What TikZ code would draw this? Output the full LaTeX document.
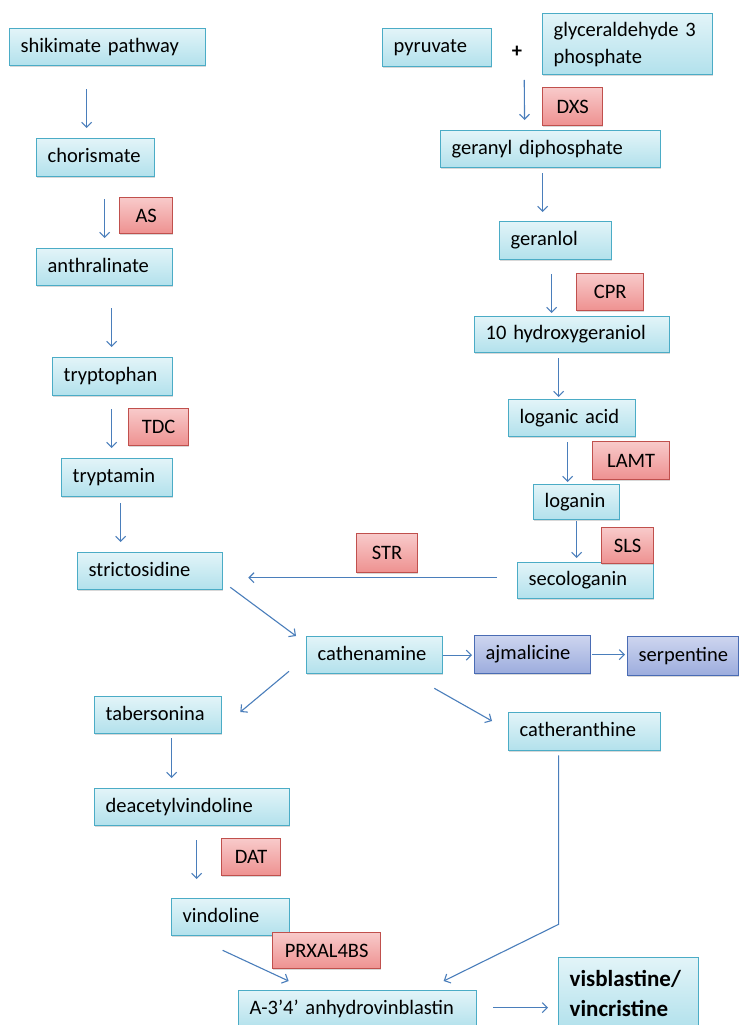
\documentclass[tikz,border=0pt]{standalone}
\usepackage{fontspec}
\setmainfont{Carlito}
\usetikzlibrary{arrows.meta,shadows}
\definecolor{cyanTop}{HTML}{E2F4F8}
\definecolor{cyanBot}{HTML}{B2E1EC}
\definecolor{cyanLine}{HTML}{4BACC6}
\definecolor{redTop}{HTML}{F8CACA}
\definecolor{redBot}{HTML}{EE9190}
\definecolor{redLine}{HTML}{C0504D}
\definecolor{blueTop}{HTML}{CDD5EF}
\definecolor{blueBot}{HTML}{9CACDD}
\definecolor{blueLine}{HTML}{4A6CB4}
\definecolor{arrowBlue}{HTML}{4A7EBB}
\newcommand{\bodyfont}{\fontsize{20.5}{27}\selectfont}
\newcommand{\leadfont}{\fontsize{23}{30}\selectfont\bfseries}
\begin{document}
\begin{tikzpicture}[
	x=1pt, y=-1pt,
	boxbase/.style={anchor=north west, line width=1.3pt, inner xsep=11pt, inner ysep=0pt,
		align=left, font=\bodyfont, text height=14pt, text depth=4pt,
		drop shadow={shadow xshift=0.6pt, shadow yshift=-1.2pt, opacity=0.3}},
	sub/.style={boxbase, draw=cyanLine, top color=cyanTop, bottom color=cyanBot},
	alt/.style={boxbase, draw=blueLine, top color=blueTop, bottom color=blueBot},
	multi/.style={text height={}, text depth={}},
	enzyme/.style={anchor=north west, draw=redLine, top color=redTop, bottom color=redBot,
		line width=1.3pt, inner sep=0pt, font=\bodyfont,
		drop shadow={shadow xshift=0.6pt, shadow yshift=-1.2pt, opacity=0.3}},
	flow/.style={draw=arrowBlue, line width=1.1pt, -{Straight Barb[length=5pt,width=10pt]}}
	]
	\useasboundingbox (0,0) rectangle (739,1025);
	\clip (0,0) rectangle (739,1025);
	\fill[white] (0,0) rectangle (739,1025);

	% indole branch
	\node[sub, text width=174pt, minimum height=37pt] (shik) at (9,28) {shikimate pathway};
	\node[sub, text width=96pt, minimum height=38pt] (chor) at (36,138) {chorismate};
	\node[sub, text width=114pt, minimum height=37pt] (anthr) at (36,248) {anthralinate};
	\node[sub, text width=98pt, minimum height=38pt] (trypto) at (52,357) {tryptophan};
	\node[sub, text width=89pt, minimum height=38pt] (tryptam) at (61,458) {tryptamin};
	\node[sub, text width=123pt, minimum height=37pt] (strict) at (77,552) {strictosidine};

	% terpenoid branch
	\node[sub, text width=87pt, minimum height=38pt] (pyr) at (382,28) {pyruvate};
	\node[font=\bodyfont\bfseries, inner sep=0pt] (plus) at (517,52) {+};
	\node[sub, multi, text width=148pt, minimum height=61pt] (glyc) at (542,13) {glyceraldehyde 3\\phosphate};
	\node[sub, text width=198pt, minimum height=37pt] (geranyl) at (440,130) {geranyl diphosphate};
	\node[sub, text width=90pt, minimum height=38pt] (geranlol) at (499,221) {geranlol};
	\node[sub, text width=173pt, minimum height=36pt] (hydroxy) at (474,316) {10 hydroxygeraniol};
	\node[sub, text width=105pt, minimum height=37pt] (loganic) at (508,399) {loganic acid};
	\node[sub, text width=64pt, minimum height=35pt] (loganin) at (533,484) {loganin};
	\node[sub, text width=114pt, minimum height=36pt] (seco) at (517,562) {secologanin};

	% alkaloids
	\node[sub, text width=114pt, minimum height=37pt] (cathen) at (306,636) {cathenamine};
	\node[alt, text width=94pt, minimum height=38pt] (ajm) at (474,635) {ajmalicine};
	\node[alt, text width=89pt, minimum height=39pt] (serp) at (627,636) {serpentine};
	\node[sub, text width=105pt, minimum height=37pt] (taber) at (94,696) {tabersonina};
	\node[sub, text width=130pt, minimum height=38pt] (cathera) at (508,712) {catheranthine};
	\node[sub, text width=173pt, minimum height=37pt] (deacet) at (94,788) {deacetylvindoline};
	\node[sub, text width=96pt, minimum height=37pt] (vindo) at (171,898) {vindoline};
	\node[sub, text width=216pt, minimum height=38pt] (anhydro) at (238,990) {A-3’4’ anhydrovinblastin};
	\node[sub, multi, text width=118pt, minimum height=71pt, font=\leadfont] (visb) at (558,957) {visblastine/\\vincristine};

	% enzymes
	\node[enzyme, minimum width=53pt, minimum height=36pt] (as) at (119,197) {AS};
	\node[enzyme, minimum width=60pt, minimum height=37pt] (tdc) at (128,408) {TDC};
	\node[enzyme, minimum width=60pt, minimum height=38pt] (dxs) at (542,87) {DXS};
	\node[enzyme, minimum width=67pt, minimum height=37pt] (cpr) at (576,273) {CPR};
	\node[enzyme, minimum width=77pt, minimum height=38pt] (lamt) at (592,441) {LAMT};
	\node[enzyme, minimum width=52pt, minimum height=36pt] (sls) at (601,527) {SLS};
	\node[enzyme, minimum width=61pt, minimum height=39pt] (str) at (356,533) {STR};
	\node[enzyme, minimum width=59pt, minimum height=37pt] (dat) at (221,838) {DAT};
	\node[enzyme, minimum width=108pt, minimum height=36pt] (prx) at (272,932) {PRXAL4BS};

	\draw[flow, shorten <=23pt, shorten >=10pt] ([xshift=-21pt]shik.south) -- ([xshift=-9pt]chor.north);
	\draw[flow, shorten <=22pt, shorten >=10pt] ([xshift=9pt]chor.south) -- (anthr.north);
	\draw[flow, shorten <=22pt, shorten >=10pt] ([xshift=7pt]anthr.south) -- ([xshift=-1pt]trypto.north);
	\draw[flow, shorten <=13pt, shorten >=10pt] ([xshift=-1pt]trypto.south) -- ([xshift=-5.5pt]tryptam.north);
	\draw[flow, shorten <=6pt, shorten >=10pt] ([xshift=3.5pt]tryptam.south) -- ([xshift=-29.5pt]strict.north);

	\draw[flow, shorten <=28pt, shorten >=10pt] ([xshift=7pt]plus.center) -- ([xshift=-26pt]geranyl.north);
	\draw[flow, shorten <=5pt, shorten >=9pt] ([xshift=-8pt]geranyl.south) -- ([xshift=-13pt]geranlol.north);
	\draw[flow, shorten <=14pt, shorten >=3pt] ([xshift=-4pt]geranlol.south) -- ([xshift=-20.5pt]hydroxy.north);
	\draw[flow, shorten <=5pt, shorten >=2pt] ([xshift=-13.5pt]hydroxy.south) -- ([xshift=-13.5pt]loganic.north);
	\draw[flow, shorten <=5pt, shorten >=2pt] ([xshift=-4.5pt]loganic.south) -- ([xshift=-9pt]loganin.north);
	\draw[flow, shorten <=1pt, shorten >=4pt] (loganin.south) -- ([xshift=-9pt]seco.north);

	\draw[flow, shorten <=20pt, shorten >=25pt] ([yshift=3pt]seco.west) -- ([yshift=3pt]seco.west -| strict.east);
	\draw[flow] ([xshift=7pt,yshift=3pt]strict.south east) -- ([xshift=-10pt]cathen.north west);
	\draw[flow, shorten >=2pt] (cathen.east) -- (cathen.east -| ajm.west);
	\draw[flow, shorten <=1pt, shorten >=2pt] (ajm.east) -- (ajm.east -| serp.west);
	\draw[flow] ([xshift=-17pt,yshift=3pt]cathen.south west) -- ([xshift=18pt,yshift=-16pt]taber.north east);
	\draw[flow] ([xshift=-9pt,yshift=-14pt]cathen.south east) -- ([xshift=-16pt,yshift=-9pt]cathera.north west);

	\draw[flow, shorten <=4pt, shorten >=10pt] ([xshift=13.5pt]taber.south) -- ([xshift=-20.5pt]deacet.north);
	\draw[flow, shorten <=14pt, shorten >=19pt] ([xshift=4.5pt]deacet.south) -- ([xshift=-34pt]vindo.north);
	\draw[flow] ([xshift=-8pt,yshift=-14pt]vindo.south) -- ([xshift=-69pt,yshift=9pt]anhydro.north);
	\draw[flow] ([xshift=-26pt,yshift=-4pt]cathera.south) -- ++(0,169) -- ([xshift=86pt,yshift=9pt]anhydro.north);
	\draw[flow, shorten <=16pt, shorten >=10pt] ([yshift=2pt]anhydro.east) -- ([yshift=2pt]anhydro.east -| visb.west);
\end{tikzpicture}
\end{document}
